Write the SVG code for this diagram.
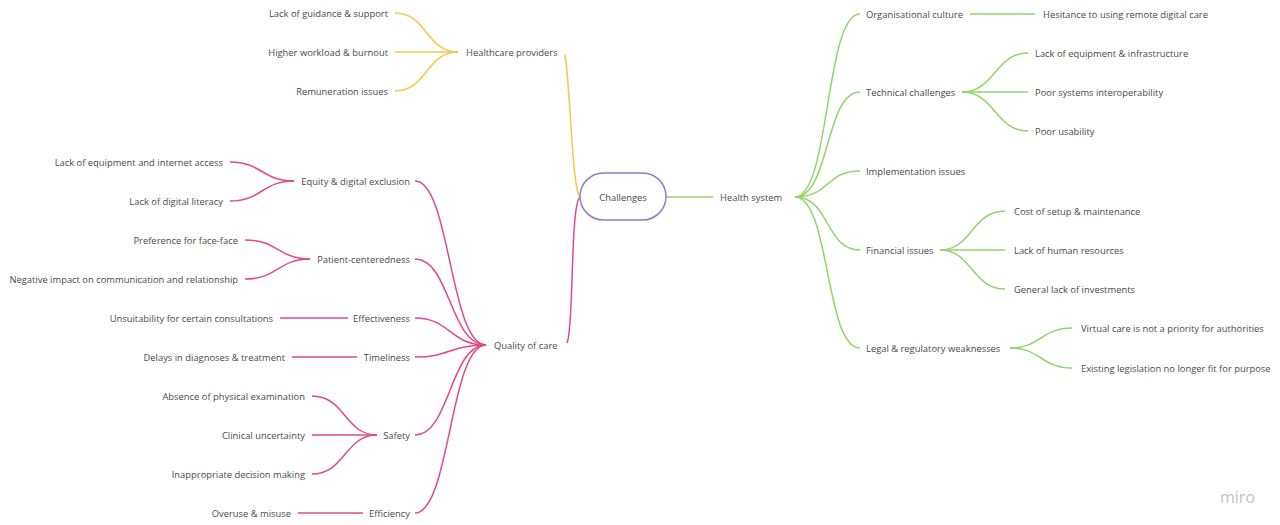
<svg xmlns="http://www.w3.org/2000/svg" width="1280" height="525" viewBox="0 0 1280 525">
<style>
text{font-family:"Open Sans","DejaVu Sans",sans-serif;font-size:9.4px;fill:#4a4a4a;dominant-baseline:central}
.r{text-anchor:end}
.c{fill:none;stroke-width:1.5}
.g{stroke:#93d36c}.y{stroke:#f0cb4a}.p{stroke:#e2488c}
</style>
<rect width="1280" height="525" fill="#fff"/>
<g id="connectors">
<path class="c g" d="M666 197H713"/>
<path class="c y" d="M580 197C572 190 570 80 565 55"/>
<path class="c p" d="M580 197C570 205 574 330 567 343"/>
<g class="g">
<path class="c" d="M795 197C830 197 825 14 860 14"/>
<path class="c" d="M795 197C830 197 825 92 860 92"/>
<path class="c" d="M795 197C830 197 825 171 860 171"/>
<path class="c" d="M795 197C830 197 825 250 860 250"/>
<path class="c" d="M795 197C830 197 825 348 860 348"/>
<path class="c" d="M970 14H1035"/>
<path class="c" d="M962 92C995 92 995 53 1028 53"/>
<path class="c" d="M962 92H1028"/>
<path class="c" d="M962 92C995 92 995 131 1028 131"/>
<path class="c" d="M940 250C972 250 972 211 1005 211"/>
<path class="c" d="M940 250H1005"/>
<path class="c" d="M940 250C972 250 972 289 1005 289"/>
<path class="c" d="M1010 348C1041 348 1041 328 1072 328"/>
<path class="c" d="M1010 348C1041 348 1041 368 1072 368"/>
</g>
<g class="y">
<path class="c" d="M458 52C426 52 427 13 395 13"/>
<path class="c" d="M458 52H395"/>
<path class="c" d="M458 52C426 52 427 91 395 91"/>
</g>
<g class="p">
<path class="c" d="M486 345C450 345 450 181 415 181"/>
<path class="c" d="M486 345C450 345 450 259 415 259"/>
<path class="c" d="M486 345C450 345 450 318 415 318"/>
<path class="c" d="M486 345C450 345 450 357 415 357"/>
<path class="c" d="M486 345C450 345 450 435 415 435"/>
<path class="c" d="M486 345C450 345 450 513 415 513"/>
<path class="c" d="M294 181C262 181 262 162 230 162"/>
<path class="c" d="M294 181C262 181 262 201 230 201"/>
<path class="c" d="M310 259C278 259 278 240 245 240"/>
<path class="c" d="M310 259C278 259 278 279 245 279"/>
<path class="c" d="M348 318H280"/>
<path class="c" d="M357 357H292"/>
<path class="c" d="M377 435C345 435 345 396 312 396"/>
<path class="c" d="M377 435H312"/>
<path class="c" d="M377 435C345 435 345 474 312 474"/>
<path class="c" d="M363 513H298"/>
</g>
</g>
<g id="challenges"><rect x="580" y="173" width="86" height="47" rx="23.5" fill="#fff" stroke="#8d7fc6" stroke-width="1.5"/><text x="623" y="197" text-anchor="middle">Challenges</text></g>
<g id="health-system"><text x="720" y="197">Health system</text></g>
<g id="org-culture"><text x="866" y="14">Organisational culture</text></g>
<g id="hesitance"><text x="1043" y="14">Hesitance to using remote digital care</text></g>
<g id="technical"><text x="866" y="92">Technical challenges</text></g>
<g id="equipment"><text x="1035" y="53">Lack of equipment &amp; infrastructure</text></g>
<g id="interop"><text x="1035" y="92">Poor systems interoperability</text></g>
<g id="usability"><text x="1035" y="131">Poor usability</text></g>
<g id="implementation"><text x="866" y="171">Implementation issues</text></g>
<g id="financial"><text x="866" y="250">Financial issues</text></g>
<g id="cost"><text x="1014" y="211">Cost of setup &amp; maintenance</text></g>
<g id="human"><text x="1014" y="250">Lack of human resources</text></g>
<g id="invest"><text x="1014" y="289">General lack of investments</text></g>
<g id="legal"><text x="866" y="348">Legal &amp; regulatory weaknesses</text></g>
<g id="priority"><text x="1081" y="328">Virtual care is not a priority for authorities</text></g>
<g id="legislation"><text x="1081" y="368">Existing legislation no longer fit for purpose</text></g>
<g id="providers"><text x="466" y="52">Healthcare providers</text></g>
<g id="guidance"><text class="r" x="388" y="13">Lack of guidance &amp; support</text></g>
<g id="workload"><text class="r" x="388" y="52">Higher workload &amp; burnout</text></g>
<g id="remuneration"><text class="r" x="388" y="91">Remuneration issues</text></g>
<g id="quality"><text x="494" y="345">Quality of care</text></g>
<g id="equity"><text class="r" x="410" y="181">Equity &amp; digital exclusion</text></g>
<g id="eq-access"><text class="r" x="223" y="162">Lack of equipment and internet access</text></g>
<g id="literacy"><text class="r" x="223" y="201">Lack of digital literacy</text></g>
<g id="patient"><text class="r" x="410" y="259">Patient-centeredness</text></g>
<g id="face"><text class="r" x="238" y="240">Preference for face-face</text></g>
<g id="negative"><text class="r" x="238" y="279">Negative impact on communication and relationship</text></g>
<g id="effectiveness"><text class="r" x="410" y="318">Effectiveness</text></g>
<g id="unsuit"><text class="r" x="273" y="318">Unsuitability for certain consultations</text></g>
<g id="timeliness"><text class="r" x="410" y="357">Timeliness</text></g>
<g id="delays"><text class="r" x="285" y="357">Delays in diagnoses &amp; treatment</text></g>
<g id="safety"><text class="r" x="410" y="435">Safety</text></g>
<g id="physical"><text class="r" x="305" y="396">Absence of physical examination</text></g>
<g id="uncertainty"><text class="r" x="305" y="435">Clinical uncertainty</text></g>
<g id="decision"><text class="r" x="305" y="474">Inappropriate decision making</text></g>
<g id="efficiency"><text class="r" x="410" y="513">Efficiency</text></g>
<g id="overuse"><text class="r" x="291" y="513">Overuse &amp; misuse</text></g>
<text x="1220" y="497" style="font-size:16px;fill:#c4c4c4">miro</text>
</svg>
